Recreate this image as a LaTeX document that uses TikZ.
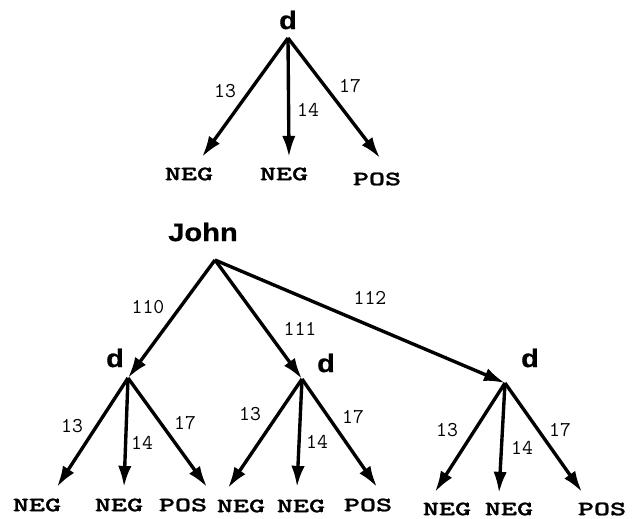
\documentclass[tikz,border=0pt]{standalone}
\usepackage{fontspec}
\usepackage{tikz}
\usetikzlibrary{arrows.meta}
\newfontfamily\headfont[FakeStretch=1.15,FakeBold=0.6]{Liberation Sans}
\newfontfamily\leaffont[FakeStretch=1.5,FakeBold=1.2]{lmmonolt10-bold.otf}

\begin{document}
\begin{tikzpicture}[x=0.025cm,y=-0.025cm,
   hd/.style={inner sep=0pt,font=\headfont\bfseries\fontsize{18}{18}\selectfont},
   lf/.style={inner sep=0pt,font=\leaffont\fontsize{14.5}{14.5}\selectfont},
   num/.style={inner sep=0pt,font=\ttfamily\fontsize{15}{15}\selectfont},
   ar/.style={line width=2.4pt,-{Latex[length=15pt,width=9.5pt]}}]
  \useasboundingbox (0,0) rectangle (633,519);
  % upper tree
  \node[hd] (d0) at (288,20) {d};
  \coordinate (a0) at (288,38);
  \coordinate (t01) at (202,157); \coordinate (t02) at (289,157); \coordinate (t03) at (380,158);
  \node[lf] (n01) at (189,174) {NEG}; \node[lf] (n02) at (284,174) {NEG}; \node[lf] (p03) at (377,179) {POS};
  \node[num] (c01) at (225,91) {13}; \node[num] (c02) at (308,110) {14}; \node[num] (c03) at (350,86) {17};
  \draw[ar] (a0) -- (t01); \draw[ar] (a0) -- (t02); \draw[ar] (a0) -- (t03);
  % John
  \node[hd] (jn) at (203,232) {John};
  \coordinate (aj) at (215,260);
  \coordinate (a1) at (128,378); \coordinate (a2) at (302,379); \coordinate (a3) at (505,383);
  \node[num] (c110) at (148,307) {110}; \node[num] (c111) at (300,329) {111}; \node[num] (c112) at (370,298) {112};
  \draw[ar] (aj) -- (a1); \draw[ar] (aj) -- (a2); \draw[ar] (aj) -- (a3);
  % left subtree
  \node[hd] (d1) at (115,358) {d};
  \coordinate (t11) at (57,487); \coordinate (t12) at (124,487); \coordinate (t13) at (207,487);
  \node[lf] (n11) at (37,505) {NEG}; \node[lf] (n12) at (119,505) {NEG}; \node[lf] (p13) at (183,505) {POS};
  \node[num] (c11) at (72,426) {13}; \node[num] (c12) at (142,443) {14}; \node[num] (c13) at (185,423) {17};
  \draw[ar] (a1) -- (t11); \draw[ar] (a1) -- (t12); \draw[ar] (a1) -- (t13);
  % middle subtree
  \node[hd] (d2) at (326,363) {d};
  \coordinate (t21) at (228,488); \coordinate (t22) at (297,487); \coordinate (t23) at (377,487);
  \node[lf] (n21) at (241,506) {NEG}; \node[lf] (n22) at (301,506) {NEG}; \node[lf] (p23) at (368,505) {POS};
  \node[num] (c21) at (250,414) {13}; \node[num] (c22) at (317,442) {14}; \node[num] (c23) at (353,417) {17};
  \draw[ar] (a2) -- (t21); \draw[ar] (a2) -- (t22); \draw[ar] (a2) -- (t23);
  % right subtree
  \node[hd] (d3) at (530,358) {d};
  \coordinate (t31) at (435,492); \coordinate (t32) at (499,493); \coordinate (t33) at (582,492);
  \node[lf] (n31) at (447,509) {NEG}; \node[lf] (n32) at (509,509) {NEG}; \node[lf] (p33) at (602,509) {POS};
  \node[num] (c31) at (447,430) {13}; \node[num] (c32) at (522,448) {14}; \node[num] (c33) at (560,430) {17};
  \draw[ar] (a3) -- (t31); \draw[ar] (a3) -- (t32); \draw[ar] (a3) -- (t33);
\end{tikzpicture}
\end{document}
